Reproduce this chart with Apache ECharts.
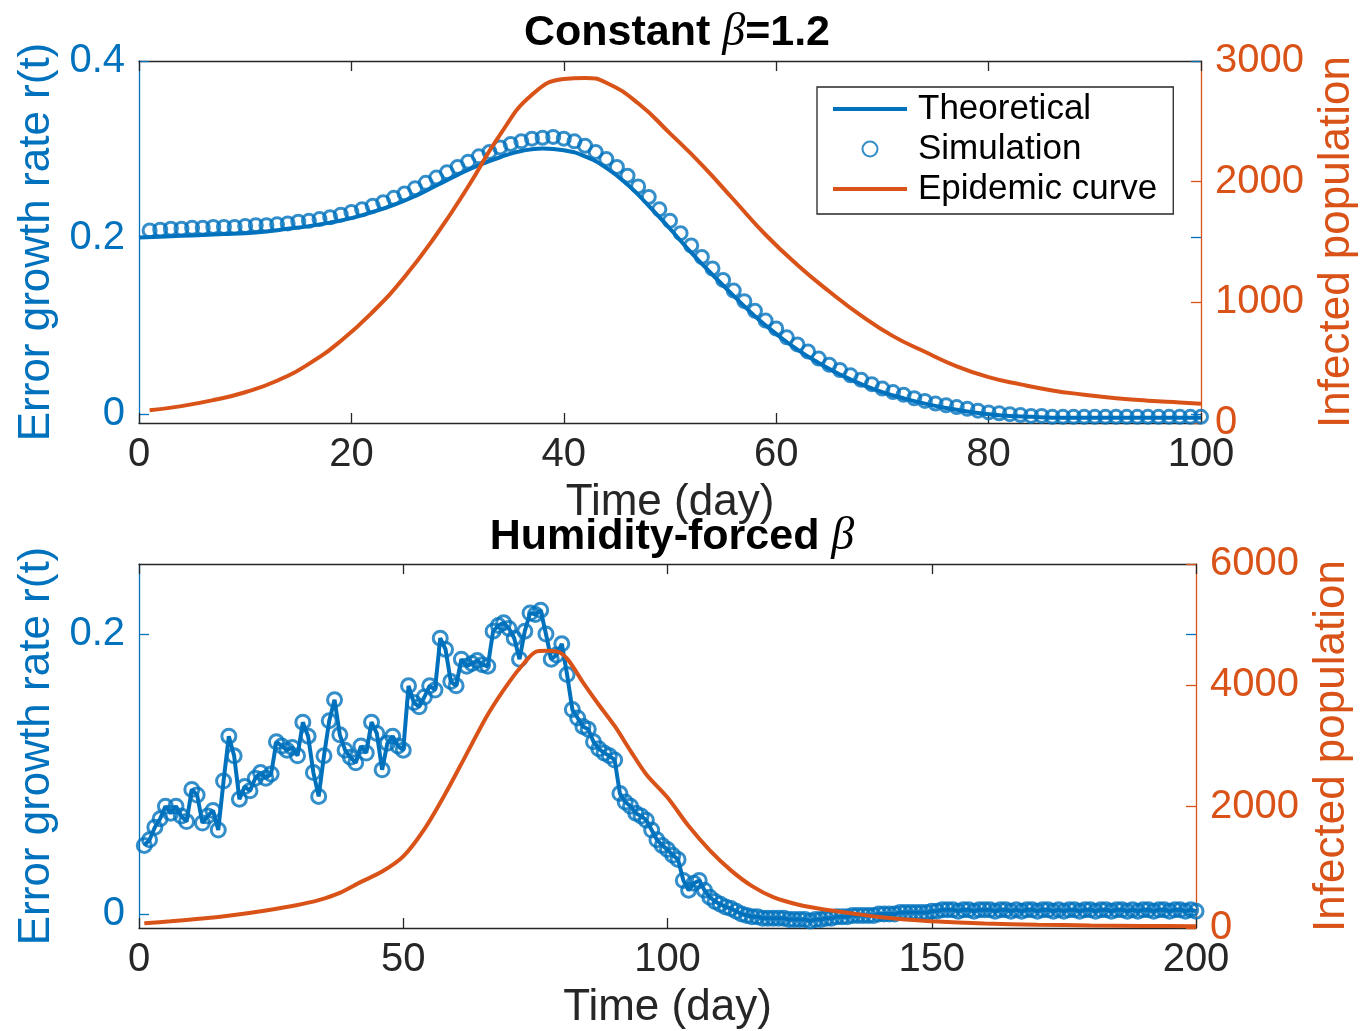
<!DOCTYPE html>
<html>
<head>
<meta charset="utf-8">
<script src="https://cdn.jsdelivr.net/npm/echarts@6/dist/echarts.min.js"></script>
<style>
  html, body { margin: 0; padding: 0; background: #fff; }
  #main { width: 1372px; height: 1031px; }
</style>
</head>
<body>
<div id="main"></div>
<script>
// ---- top panel: constant beta ----
var theoDays1 = [0,2,4,6,8,10,12,14,16,18,20,22,24,26,28,30,32,34,36,38,40,42,44,46,48,50,
                 52,54,56,58,60,62,64,66,68,70,72,74,76,78,80,82,84,86,88,90,92,94,96,98,100];
var theoRate1 = [0.200,0.201,0.202,0.203,0.204,0.205,0.207,0.210,0.213,0.217,0.222,0.229,0.237,0.247,
                 0.259,0.271,0.282,0.291,0.298,0.301,0.299,0.292,0.279,0.260,0.236,0.210,0.183,0.158,
                 0.134,0.111,0.091,0.073,0.058,0.045,0.034,0.025,0.018,0.012,0.007,0.003,0.000,-0.002,
                 -0.003,-0.004,-0.004,-0.004,-0.004,-0.004,-0.004,-0.004,-0.004];
// simulation, one circle per day (day 1..100)
var simRate1 = [
  0.208,0.209,0.210,0.210,0.211,0.211,0.212,0.212,0.212,0.213,
  0.214,0.214,0.215,0.216,0.218,0.219,0.221,0.223,0.226,0.229,
  0.232,0.236,0.240,0.245,0.250,0.256,0.262,0.268,0.274,0.280,
  0.286,0.292,0.297,0.302,0.306,0.309,0.312,0.313,0.314,0.312,
  0.309,0.304,0.297,0.289,0.280,0.270,0.258,0.246,0.232,0.219,
  0.205,0.191,0.178,0.165,0.152,0.140,0.128,0.117,0.106,0.097,
  0.087,0.079,0.071,0.063,0.056,0.050,0.044,0.039,0.034,0.029,
  0.025,0.022,0.018,0.015,0.012,0.010,0.008,0.006,0.004,0.002,
  0.001,0.000,-0.001,-0.002,-0.002,-0.003,-0.003,-0.003,-0.003,-0.003,
  -0.003,-0.003,-0.003,-0.003,-0.003,-0.003,-0.003,-0.003,-0.003,-0.003
];
var epiDays1 = [1,4,7,10,13,16,19,22,25,28,31,34,37,40,42,44,47,50,53,56,59,62,65,68,71,74,77,80,83,86,89,92,95,98,100];
var epiPop1 = [105,140,190,255,350,490,680,920,1210,1560,1960,2390,2720,2850,2860,2820,2650,2400,2140,
               1850,1560,1310,1090,890,720,590,470,380,320,270,235,205,185,170,160];

// ---- bottom panel: humidity-forced beta ----
// growth rate, one value per day (day 1..200)
var humRate = [
  0.049,0.053,0.062,0.068,0.077,0.072,0.077,0.070,0.066,0.089,
  0.085,0.065,0.070,0.074,0.060,0.095,0.127,0.113,0.082,0.091,
  0.088,0.097,0.101,0.097,0.100,0.123,0.120,0.117,0.119,0.113,
  0.137,0.127,0.101,0.084,0.113,0.138,0.153,0.128,0.117,0.112,
  0.108,0.120,0.115,0.137,0.129,0.103,0.122,0.127,0.120,0.117,
  0.163,0.151,0.148,0.155,0.163,0.160,0.197,0.189,0.166,0.163,
  0.182,0.177,0.179,0.181,0.178,0.177,0.202,0.206,0.208,0.204,
  0.197,0.182,0.202,0.215,0.214,0.217,0.200,0.182,0.185,0.193,
  0.171,0.146,0.140,0.134,0.132,0.123,0.118,0.115,0.113,0.110,
  0.086,0.080,0.077,0.072,0.070,0.067,0.060,0.053,0.049,0.046,
  0.042,0.039,0.024,0.017,0.022,0.024,0.017,0.012,0.009,0.007,
  0.005,0.004,0.002,0.000,-0.001,-0.002,-0.002,-0.003,-0.003,-0.003,
  -0.003,-0.003,-0.004,-0.004,-0.004,-0.004,-0.005,-0.004,-0.004,-0.003,
  -0.003,-0.002,-0.002,-0.002,-0.001,-0.001,-0.001,-0.001,-0.001,0.000,
  0.000,0.000,0.000,0.001,0.001,0.001,0.001,0.001,0.001,0.002,
  0.002,0.003,0.003,0.003,0.002,0.003,0.003,0.002,0.003,0.003,
  0.003,0.002,0.003,0.003,0.002,0.003,0.002,0.003,0.003,0.002,
  0.003,0.003,0.002,0.003,0.002,0.003,0.003,0.002,0.003,0.003,
  0.002,0.003,0.003,0.002,0.003,0.003,0.002,0.003,0.002,0.003,
  0.003,0.002,0.003,0.003,0.002,0.003,0.003,0.002,0.003,0.002
];
var epiDays2 = [1,6,12,18,24,30,34,38,42,46,50,54,58,62,66,70,73,75,77,79,81,84,87,90,93,96,100,
                104,108,112,116,120,125,130,135,140,145,150,160,170,180,190,200];
var epiPop2 = [80,110,155,215,290,380,460,580,760,930,1180,1630,2220,2870,3520,4050,4380,4550,4570,4560,
               4440,4050,3680,3330,2920,2530,2150,1680,1280,950,690,510,380,300,240,180,140,110,75,55,42,35,30];

var BLUE = '#0072BD', ORANGE = '#D95319', INK = '#262626';
var FONT = 'Liberation Sans';

function pairs(xs, ys) { return ys.map(function (v, i) { return [xs[i], v]; }); }
function daily(ys) { return ys.map(function (v, i) { return [i + 1, v]; }); }

function xAxisFor(grid, max, step, top) {
  return {
    type: 'value', gridIndex: grid, min: 0, max: max, interval: step,
    position: top ? 'top' : 'bottom',
    axisLine: { onZero: false, lineStyle: { color: INK, width: 1.3 } },
    axisTick: { inside: true, length: 10, lineStyle: { color: INK, width: 1.3 } },
    axisLabel: { show: !top, fontSize: 40, color: INK, fontFamily: FONT, margin: 12 },
    splitLine: { show: false },
    name: top ? '' : 'Time (day)', nameLocation: 'middle', nameGap: 58,
    nameTextStyle: { fontSize: 44, color: INK, fontFamily: FONT }
  };
}
function leftAxis(grid, max, ticks, mirror) {
  return {
    type: 'value', gridIndex: grid, min: -0.01, max: max,
    position: mirror ? 'right' : 'left',
    axisLine: { show: !mirror, onZero: false, lineStyle: { color: BLUE, width: 1.3 } },
    axisTick: { inside: true, length: 10, customValues: ticks, lineStyle: { color: BLUE, width: 1.3 } },
    axisLabel: { show: !mirror, customValues: ticks, fontSize: 40, color: BLUE, fontFamily: FONT, margin: 14 },
    splitLine: { show: false },
    name: mirror ? '' : 'Error growth rate r(t)', nameLocation: 'middle', nameRotate: 90, nameGap: 78,
    nameTextStyle: { fontSize: 44, color: BLUE, fontFamily: FONT }
  };
}
function rightAxis(grid, max, step) {
  return {
    type: 'value', gridIndex: grid, min: 0, max: max, interval: step, position: 'right',
    axisLine: { show: true, onZero: false, lineStyle: { color: ORANGE, width: 1.3 } },
    axisTick: { inside: true, length: 10, lineStyle: { color: ORANGE, width: 1.3 } },
    axisLabel: { fontSize: 40, color: ORANGE, fontFamily: FONT, margin: 14,
                 formatter: function (v) { return String(v); } },
    splitLine: { show: false },
    name: 'Infected population', nameLocation: 'middle', nameRotate: 90, nameGap: 107,
    nameTextStyle: { fontSize: 44, color: ORANGE, fontFamily: FONT }
  };
}

var titleRich = {
  b: { fontSize: 43, fontWeight: 'bold', fontFamily: FONT, color: '#000' },
  g: { fontSize: 46, fontWeight: 'normal', fontStyle: 'italic', fontFamily: 'Liberation Serif', color: '#000' }
};

var option = {
  animation: false,
  backgroundColor: '#fff',
  title: [
    { text: '{b|Constant }{g|β}{b|=1.2}', left: 672, top: 5, textAlign: 'center', textStyle: { rich: titleRich } },
    { text: '{b|Humidity-forced }{g|β}', left: 667, top: 509, textAlign: 'center', textStyle: { rich: titleRich } }
  ],
  grid: [
    { left: 139, top: 61, width: 1062, height: 362 },
    { left: 139, top: 564, width: 1057, height: 364 }
  ],
  legend: {
    data: [
      { name: 'Theoretical', icon: 'path://M0,0L74,0L74,4L0,4Z' },
      { name: 'Simulation', icon: 'circle' },
      { name: 'Epidemic curve', icon: 'path://M0,0L74,0L74,4L0,4Z' }
    ],
    orient: 'vertical', left: 817, top: 87,
    padding: [2, 16, 5, 16],
    itemWidth: 74, itemHeight: 15, itemGap: 0,
    borderColor: INK, borderWidth: 1.3,
    selectedMode: false,
    textStyle: { fontSize: 35, color: '#000', fontFamily: FONT, lineHeight: 40, padding: [0, 0, 0, 6] }
  },
  xAxis: [
    xAxisFor(0, 100, 20, false),
    xAxisFor(0, 100, 20, true),
    xAxisFor(1, 200, 50, false),
    xAxisFor(1, 200, 50, true)
  ],
  yAxis: [
    leftAxis(0, 0.4, [0, 0.2, 0.4], false),
    rightAxis(0, 3000, 1000),
    leftAxis(0, 0.4, [0, 0.2, 0.4], true),
    leftAxis(1, 0.25, [0, 0.2], false),
    rightAxis(1, 6000, 2000),
    leftAxis(1, 0.25, [0, 0.2], true)
  ],
  series: [
    {
      name: 'Theoretical', type: 'line', xAxisIndex: 0, yAxisIndex: 0,
      data: pairs(theoDays1, theoRate1), smooth: true, symbol: 'none',
      itemStyle: { color: BLUE }, lineStyle: { color: BLUE, width: 4 }, z: 2
    },
    {
      name: 'Simulation', type: 'scatter', xAxisIndex: 0, yAxisIndex: 0,
      data: daily(simRate1), symbol: 'circle', symbolSize: 13,
      itemStyle: { color: 'rgba(0,0,0,0)', borderColor: BLUE, borderWidth: 3 }, z: 3
    },
    {
      name: 'Epidemic curve', type: 'line', xAxisIndex: 0, yAxisIndex: 1,
      data: pairs(epiDays1, epiPop1), smooth: true, symbol: 'none',
      itemStyle: { color: ORANGE }, lineStyle: { color: ORANGE, width: 4 }, z: 4
    },
    {
      name: 'Humidity theoretical', type: 'line', xAxisIndex: 2, yAxisIndex: 3,
      data: daily(humRate), symbol: 'none',
      itemStyle: { color: BLUE }, lineStyle: { color: BLUE, width: 4 }, z: 2
    },
    {
      name: 'Humidity simulation', type: 'scatter', xAxisIndex: 2, yAxisIndex: 3,
      data: daily(humRate), symbol: 'circle', symbolSize: 14,
      itemStyle: { color: 'rgba(0,0,0,0)', borderColor: BLUE, borderWidth: 3 }, z: 3
    },
    {
      name: 'Humidity epidemic', type: 'line', xAxisIndex: 2, yAxisIndex: 4,
      data: pairs(epiDays2, epiPop2), smooth: 0.3, symbol: 'none',
      itemStyle: { color: ORANGE }, lineStyle: { color: ORANGE, width: 4 }, z: 4
    }
  ]
};

var chart = echarts.init(document.getElementById('main'));
chart.setOption(option);
window.addEventListener('resize', function () { chart.resize(); });
</script>
</body>
</html>
